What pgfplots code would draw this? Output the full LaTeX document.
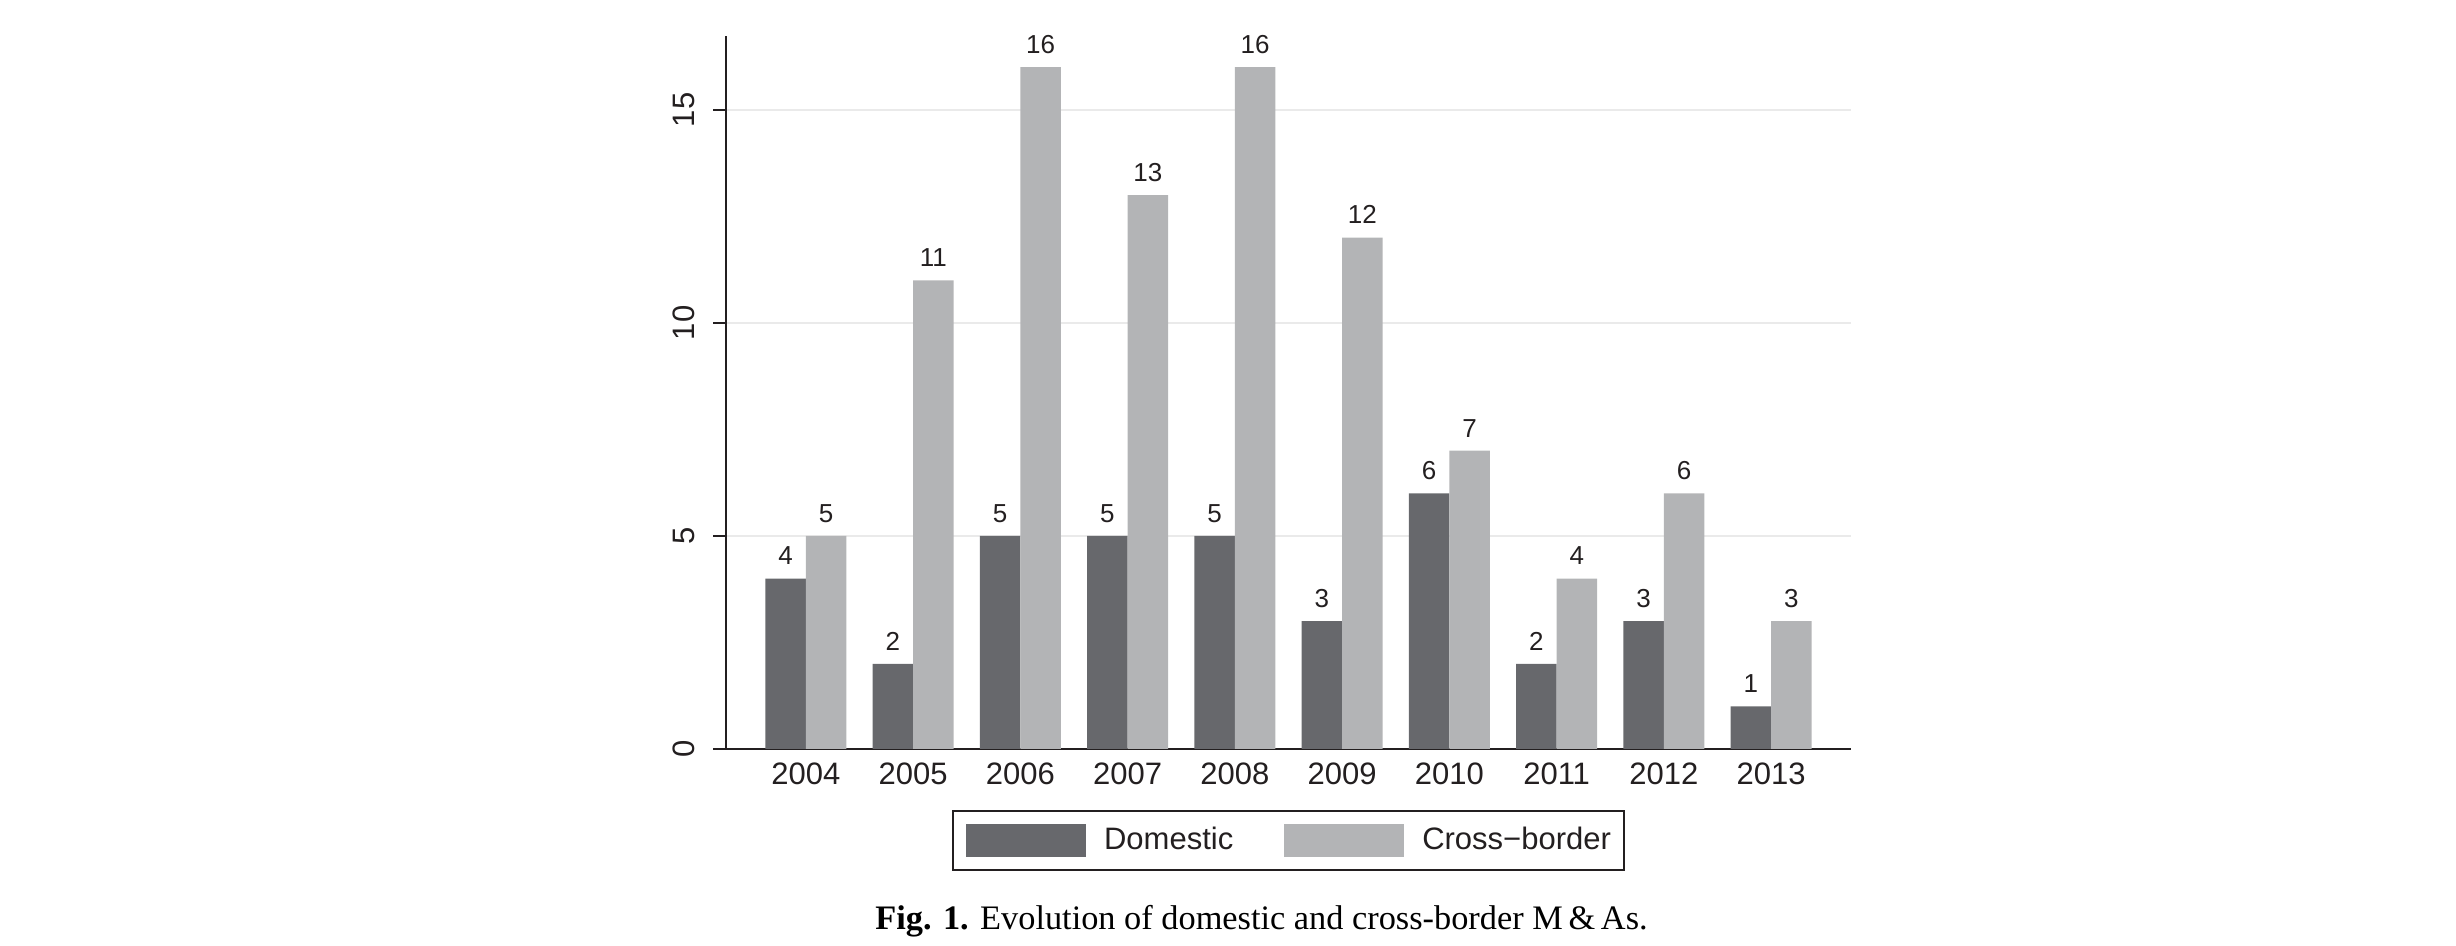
\documentclass[border=0pt]{standalone}
\usepackage{fontspec}
\setmainfont{Liberation Sans}
\newfontfamily\capfont{Liberation Serif}
\usepackage{pgfplots}
\pgfplotsset{compat=1.18}

\definecolor{domcol}{RGB}{103,104,108}
\definecolor{crosscol}{RGB}{179,180,182}
\definecolor{gridcol}{RGB}{234,234,234}
\definecolor{axiscol}{RGB}{35,31,32}

% flat legend patches for the bars
\pgfplotsset{/pgfplots/ybar legend/.style={
  /pgfplots/legend image code/.code={\fill[##1] (0pt,-4.95pt) rectangle (36pt,4.95pt);}}}

\begin{document}
\begin{tikzpicture}
\useasboundingbox (0,0) rectangle (736.8pt,283.8pt);
\begin{axis}[
  at={(217.8pt,59.1pt)}, anchor=south west,
  scale only axis, width=337.5pt, height=214pt,
  xmin=-0.745, xmax=9.745, ymin=0, ymax=16.74,
  axis x line=bottom, axis y line=left,
  axis line style={-, draw=axiscol, line width=0.6pt},
  ybar=0pt, bar width=12.15pt,
  /pgf/number format/assume math mode=true,
  xtick={0,...,9},
  xticklabels={2004,2005,2006,2007,2008,2009,2010,2011,2012,2013},
  xtick style={draw=none},
  ytick={0,5,10,15},
  ytick style={draw=axiscol, line width=0.6pt},
  tick align=outside, major tick length=3.9pt,
  ymajorgrids, major grid style={draw=gridcol, line width=0.7pt},
  tick label style={font=\fontsize{9.3}{11}\selectfont, text=axiscol},
  yticklabel style={xshift=-5.4pt, rotate=90, anchor=south, inner sep=0pt},
  xticklabel style={anchor=north, inner sep=0pt},
  nodes near coords,
  nodes near coords style={font=\fontsize{7.8}{9}\selectfont, text=axiscol, inner sep=0pt, anchor=south, yshift=3.9pt},
  legend columns=2,
  legend cell align=left,
  legend style={at={(0.5,0)}, anchor=north, yshift=-18.3pt,
    draw=axiscol, line width=0.6pt, inner sep=3.9pt,
    font=\fontsize{9.3}{11}\selectfont, text=axiscol,
    nodes={inner sep=0pt}, column sep=5.4pt,
    /tikz/every even column/.append style={column sep=15.3pt}},
  clip=false,
]
\addplot[fill=domcol, draw=none] coordinates {
  (0,4) (1,2) (2,5) (3,5) (4,5) (5,3) (6,6) (7,2) (8,3) (9,1)};
\addplot[fill=crosscol, draw=none] coordinates {
  (0,5) (1,11) (2,16) (3,13) (4,16) (5,12) (6,7) (7,4) (8,6) (9,3)};
\legend{Domestic, Cross−border}
\end{axis}
\node[anchor=base, font=\capfont\fontsize{10.3}{12}\selectfont, text=black] at (378.45pt,5pt)
  {\textbf{Fig. 1.} Evolution of domestic and cross-border M\,\&\,As.};
\end{tikzpicture}
\end{document}
